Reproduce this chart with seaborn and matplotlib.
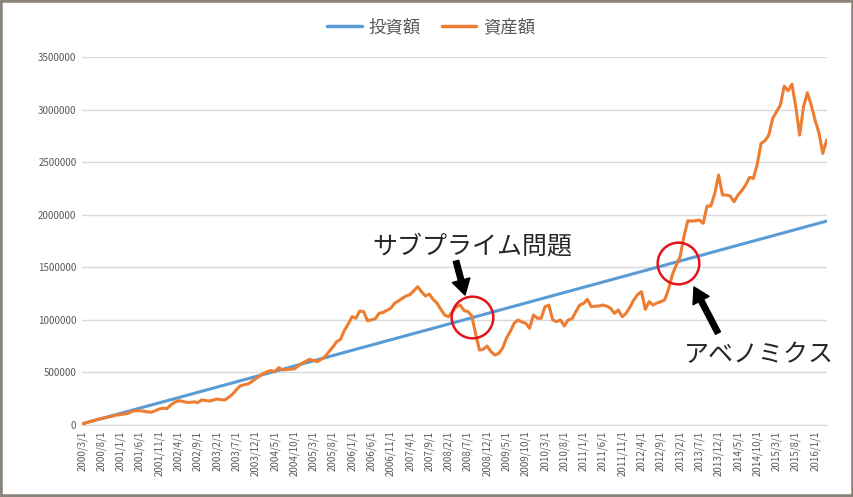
import pandas as pd
import matplotlib.pyplot as plt
import seaborn as sns
from matplotlib.patches import Rectangle

# monthly series, 2000/3/1 .. 2016/4/1 (values in thousand yen)
invest_k = [
    10, 20, 30, 40, 50, 60, 70, 80, 90, 100,
    110, 120, 130, 140, 150, 160, 170, 180, 190, 200,
    210, 220, 230, 240, 250, 260, 270, 280, 290, 300,
    310, 320, 330, 340, 350, 360, 370, 380, 390, 400,
    410, 420, 430, 440, 450, 460, 470, 480, 490, 500,
    510, 520, 530, 540, 550, 560, 570, 580, 590, 600,
    610, 620, 630, 640, 650, 660, 670, 680, 690, 700,
    710, 720, 730, 740, 750, 760, 770, 780, 790, 800,
    810, 820, 830, 840, 850, 860, 870, 880, 890, 900,
    910, 920, 930, 940, 950, 960, 970, 980, 990, 1000,
    1010, 1020, 1030, 1040, 1050, 1060, 1070, 1080, 1090, 1100,
    1110, 1120, 1130, 1140, 1150, 1160, 1170, 1180, 1190, 1200,
    1210, 1220, 1230, 1240, 1250, 1260, 1270, 1280, 1290, 1300,
    1310, 1320, 1330, 1340, 1350, 1360, 1370, 1380, 1390, 1400,
    1410, 1420, 1430, 1440, 1450, 1460, 1470, 1480, 1490, 1500,
    1510, 1520, 1530, 1540, 1550, 1560, 1570, 1580, 1590, 1600,
    1610, 1620, 1630, 1640, 1650, 1660, 1670, 1680, 1690, 1700,
    1710, 1720, 1730, 1740, 1750, 1760, 1770, 1780, 1790, 1800,
    1810, 1820, 1830, 1840, 1850, 1860, 1870, 1880, 1890, 1900,
    1910, 1920, 1930, 1940,
]
asset_k = [
    10, 20, 32, 40, 52, 60, 68, 75, 85, 95,
    98, 105, 111, 130, 135, 136, 130, 124, 121, 135,
    152, 160, 155, 190, 215, 231, 225, 216, 214, 220,
    212, 238, 232, 228, 236, 247, 240, 238, 262, 292,
    335, 371, 382, 390, 412, 440, 465, 490, 507, 517,
    507, 545, 523, 528, 530, 533, 560, 587, 605, 625,
    612, 602, 625, 650, 697, 740, 792, 815, 900, 960,
    1030, 1015, 1084, 1078, 992, 1000, 1011, 1062, 1070, 1090,
    1110, 1157, 1180, 1205, 1227, 1240, 1277, 1315, 1268, 1227,
    1246, 1195, 1160, 1100, 1046, 1030, 1078, 1125, 1141, 1090,
    1078, 1040, 872, 713, 720, 751, 697, 665, 680, 729,
    825, 890, 967, 999, 980, 967, 920, 1046, 1015, 1015,
    1125, 1141, 1000, 983, 999, 942, 999, 1010, 1078, 1141,
    1157, 1195, 1125, 1130, 1132, 1141, 1130, 1110, 1062, 1094,
    1030, 1062, 1120, 1189, 1240, 1268, 1100, 1173, 1141, 1160,
    1173, 1189, 1290, 1430, 1520, 1601, 1791, 1943, 1940, 1943,
    1950, 1918, 2083, 2083, 2204, 2378, 2188, 2188, 2178, 2124,
    2188, 2230, 2283, 2356, 2346, 2480, 2679, 2704, 2758, 2917,
    2980, 3044, 3224, 3180, 3243, 3028, 2758, 3028, 3161, 3044,
    2900, 2780, 2584, 2711,
]
tick_labels = [
    '2000/3/1', '2000/8/1', '2001/1/1', '2001/6/1', '2001/11/1', '2002/4/1',
    '2002/9/1', '2003/2/1', '2003/7/1', '2003/12/1', '2004/5/1', '2004/10/1',
    '2005/3/1', '2005/8/1', '2006/1/1', '2006/6/1', '2006/11/1', '2007/4/1',
    '2007/9/1', '2008/2/1', '2008/7/1', '2008/12/1', '2009/5/1', '2009/10/1',
    '2010/3/1', '2010/8/1', '2011/1/1', '2011/6/1', '2011/11/1', '2012/4/1',
    '2012/9/1', '2013/2/1', '2013/7/1', '2013/12/1', '2014/5/1', '2014/10/1',
    '2015/3/1', '2015/8/1', '2016/1/1',
]
series_names = ['投資額', '資産額']
colors = ['#5b9bd5', '#ed7d31']

sns.set_style('white')
plt.rcParams['font.family'] = ['Noto Sans CJK JP', 'DejaVu Sans']

n = len(invest_k)
df = pd.DataFrame({
    'month': list(range(n)) * 2,
    'value': [v * 1000 for v in invest_k] + [v * 1000 for v in asset_k],
    'series': [series_names[0]] * n + [series_names[1]] * n,
})

fig = plt.figure(figsize=(8.54, 4.97), dpi=100)
ax = fig.add_axes([0.096, 0.145, 0.872, 0.740])

sns.lineplot(data=df, x='month', y='value', hue='series', palette=colors,
             linewidth=2.2, ax=ax, legend=False)

ax.set_xlim(0, n - 1)
ax.set_ylim(0, 3500000)
ax.set_yticks(range(0, 3500001, 500000))
ax.set_yticklabels([str(v) for v in range(0, 3500001, 500000)],
                   fontsize=7, color='#595959')
ax.set_xticks(range(0, 5 * len(tick_labels), 5))
ax.set_xticklabels(tick_labels, rotation=90, fontsize=7, color='#595959')
ax.tick_params(axis='both', length=0, pad=4)
ax.set_xlabel('')
ax.set_ylabel('')
ax.grid(axis='y', color='#d9d9d9', linewidth=1)
ax.set_axisbelow(True)
for side in ['top', 'right', 'left']:
    ax.spines[side].set_visible(False)
ax.spines['bottom'].set_color('#d9d9d9')

# red circles on the two crossings
ax.plot([101.0], [1024000], marker='o', ms=30, mfc='none', mec='#e3151b', mew=1.8)
ax.plot([154.5], [1538000], marker='o', ms=30, mfc='none', mec='#e3151b', mew=1.8)

fig.text(0.553, 0.505, 'サブプライム問題', fontsize=18, ha='center', va='center')
fig.text(0.889, 0.286, 'アベノミクス', fontsize=18, ha='center', va='center')

arrow = dict(facecolor='black', edgecolor='black', width=4, headwidth=13, headlength=11, shrink=0)
ax.annotate('', xy=(465, 202), xytext=(456, 236), xycoords='figure pixels',
            textcoords='figure pixels', arrowprops=arrow)
ax.annotate('', xy=(694, 210), xytext=(718, 164), xycoords='figure pixels',
            textcoords='figure pixels', arrowprops=arrow)

handles = [plt.Line2D([], [], color=c, linewidth=2.5) for c in colors]
fig.legend(handles, series_names, loc='center', bbox_to_anchor=(0.505, 0.946),
           ncol=2, frameon=False, fontsize=12.5, handlelength=2.0,
           columnspacing=1.2, handletextpad=0.4, labelcolor='#595959')

fig.patches.append(Rectangle((0, 0), 1, 1, transform=fig.transFigure, fill=False,
                             edgecolor='#8a837b', linewidth=4))

fig.savefig('out.png', dpi=100)
